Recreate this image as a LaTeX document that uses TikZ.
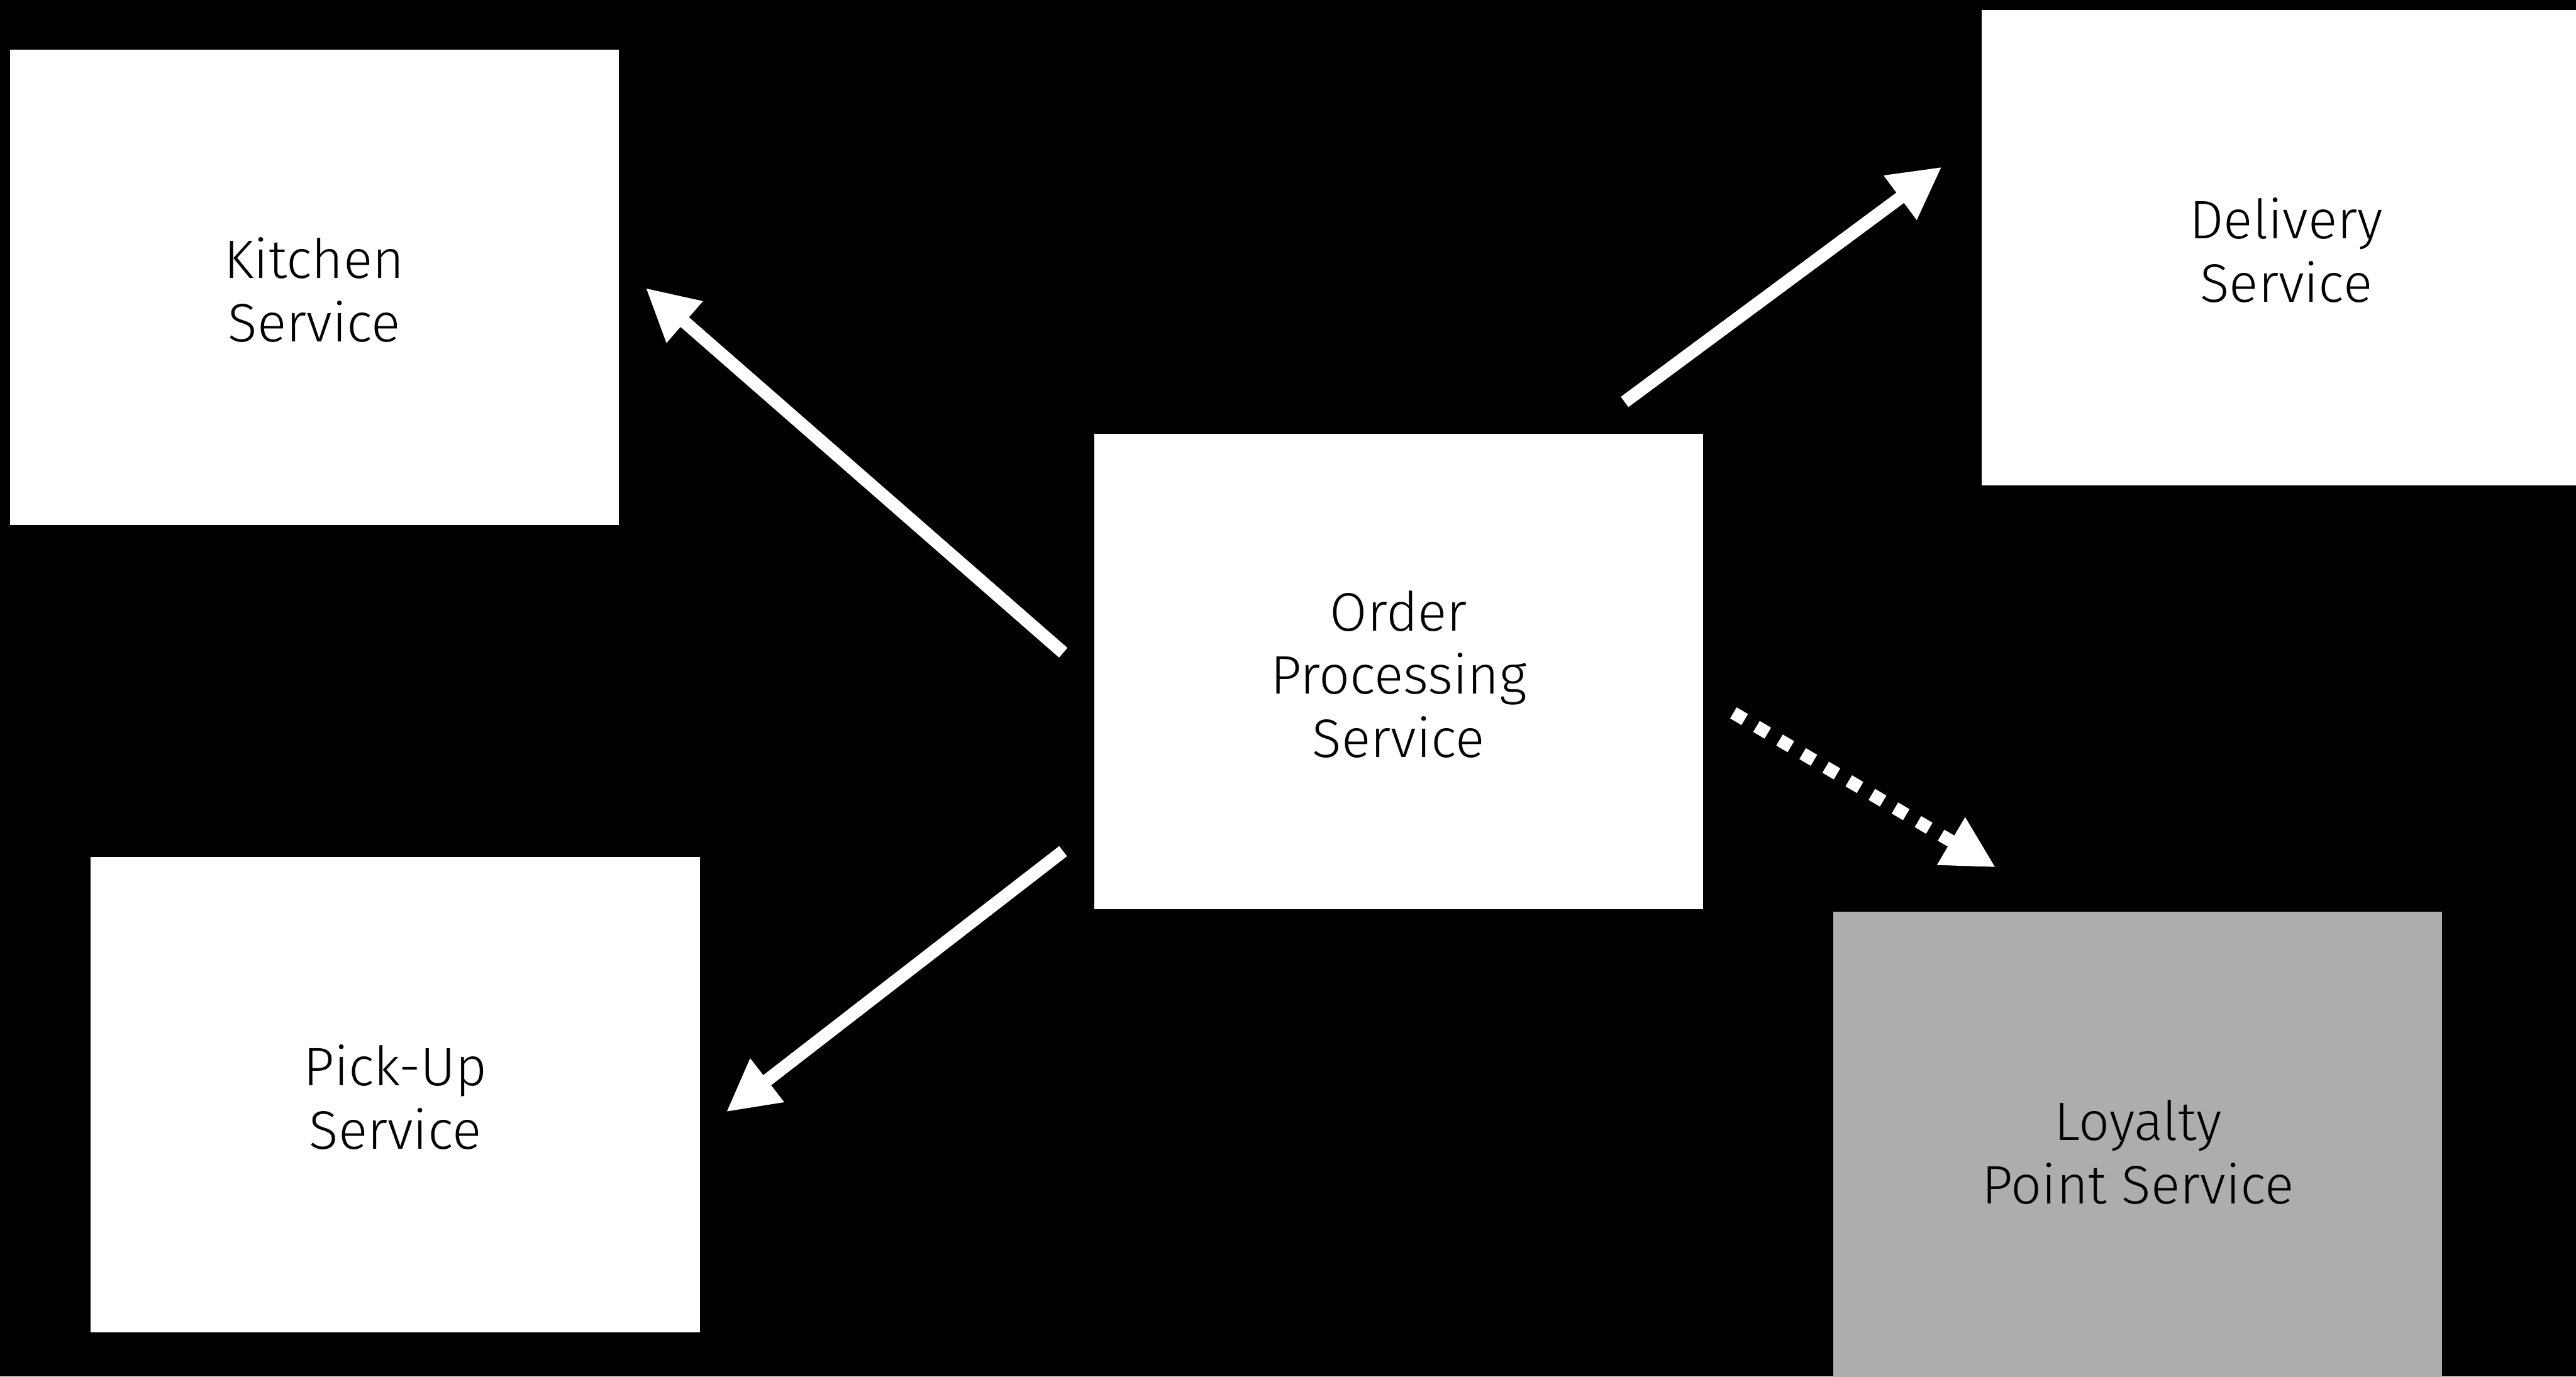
\documentclass[tikz,border=0pt]{standalone}
\usepackage{fontspec}
\setmainfont{Fira Sans Light}
\usetikzlibrary{arrows.meta,calc}
\definecolor{loyaltygray}{HTML}{ADADAD}
\newcommand{\toppad}{\rule{0pt}{28pt}}
\begin{document}
\begin{tikzpicture}[x=1pt,y=-1pt,
  box/.style={rectangle, fill=white, minimum width=370.6pt, minimum height=289.4pt,
    inner sep=0pt, align=center, font=\fontsize{33}{38.5}\selectfont, text=black},
  arr/.style={white, line width=7.8pt, -{Triangle[length=31.6pt,width=31.4pt]}},
  dasharr/.style={arr, dash pattern=on 8pt off 8.3pt}]
\useasboundingbox (0,0) rectangle (1568,838);
\fill[black] (0,0) rectangle (1568,838);
\node[box] (kitchen) at (191.3,175) {\toppad Kitchen\\Service};
\node[box] (order) at (851.3,408.7) {\toppad Order\\Processing\\Service};
\node[box] (delivery) at (1391.6,150.7) {\toppad Delivery\\Service};
\node[box] (pickup) at (240.6,666.4) {\toppad Pick-Up\\Service};
\node[box, fill=loyaltygray] (loyalty) at (1301.3,699.7) {\toppad Loyalty\\Point Service};
\draw[arr] ([shift={(-18.6,-11.3)}]order.west) -- ([shift={(16.2,0.3)}]kitchen.east);
\draw[arr] ([shift={(-47.9,-19.1)}]order.north east) -- ([shift={(-24.1,95.8)}]delivery.north west);
\draw[arr] ([shift={(-18.7,-35.4)}]order.south west) -- ([shift={(15.9,10.6)}]pickup.east);
\draw[dasharr] ([shift={(18.3,25.3)}]order.east) -- ([shift={(99,-26.7)}]loyalty.north west);
\end{tikzpicture}
\end{document}
